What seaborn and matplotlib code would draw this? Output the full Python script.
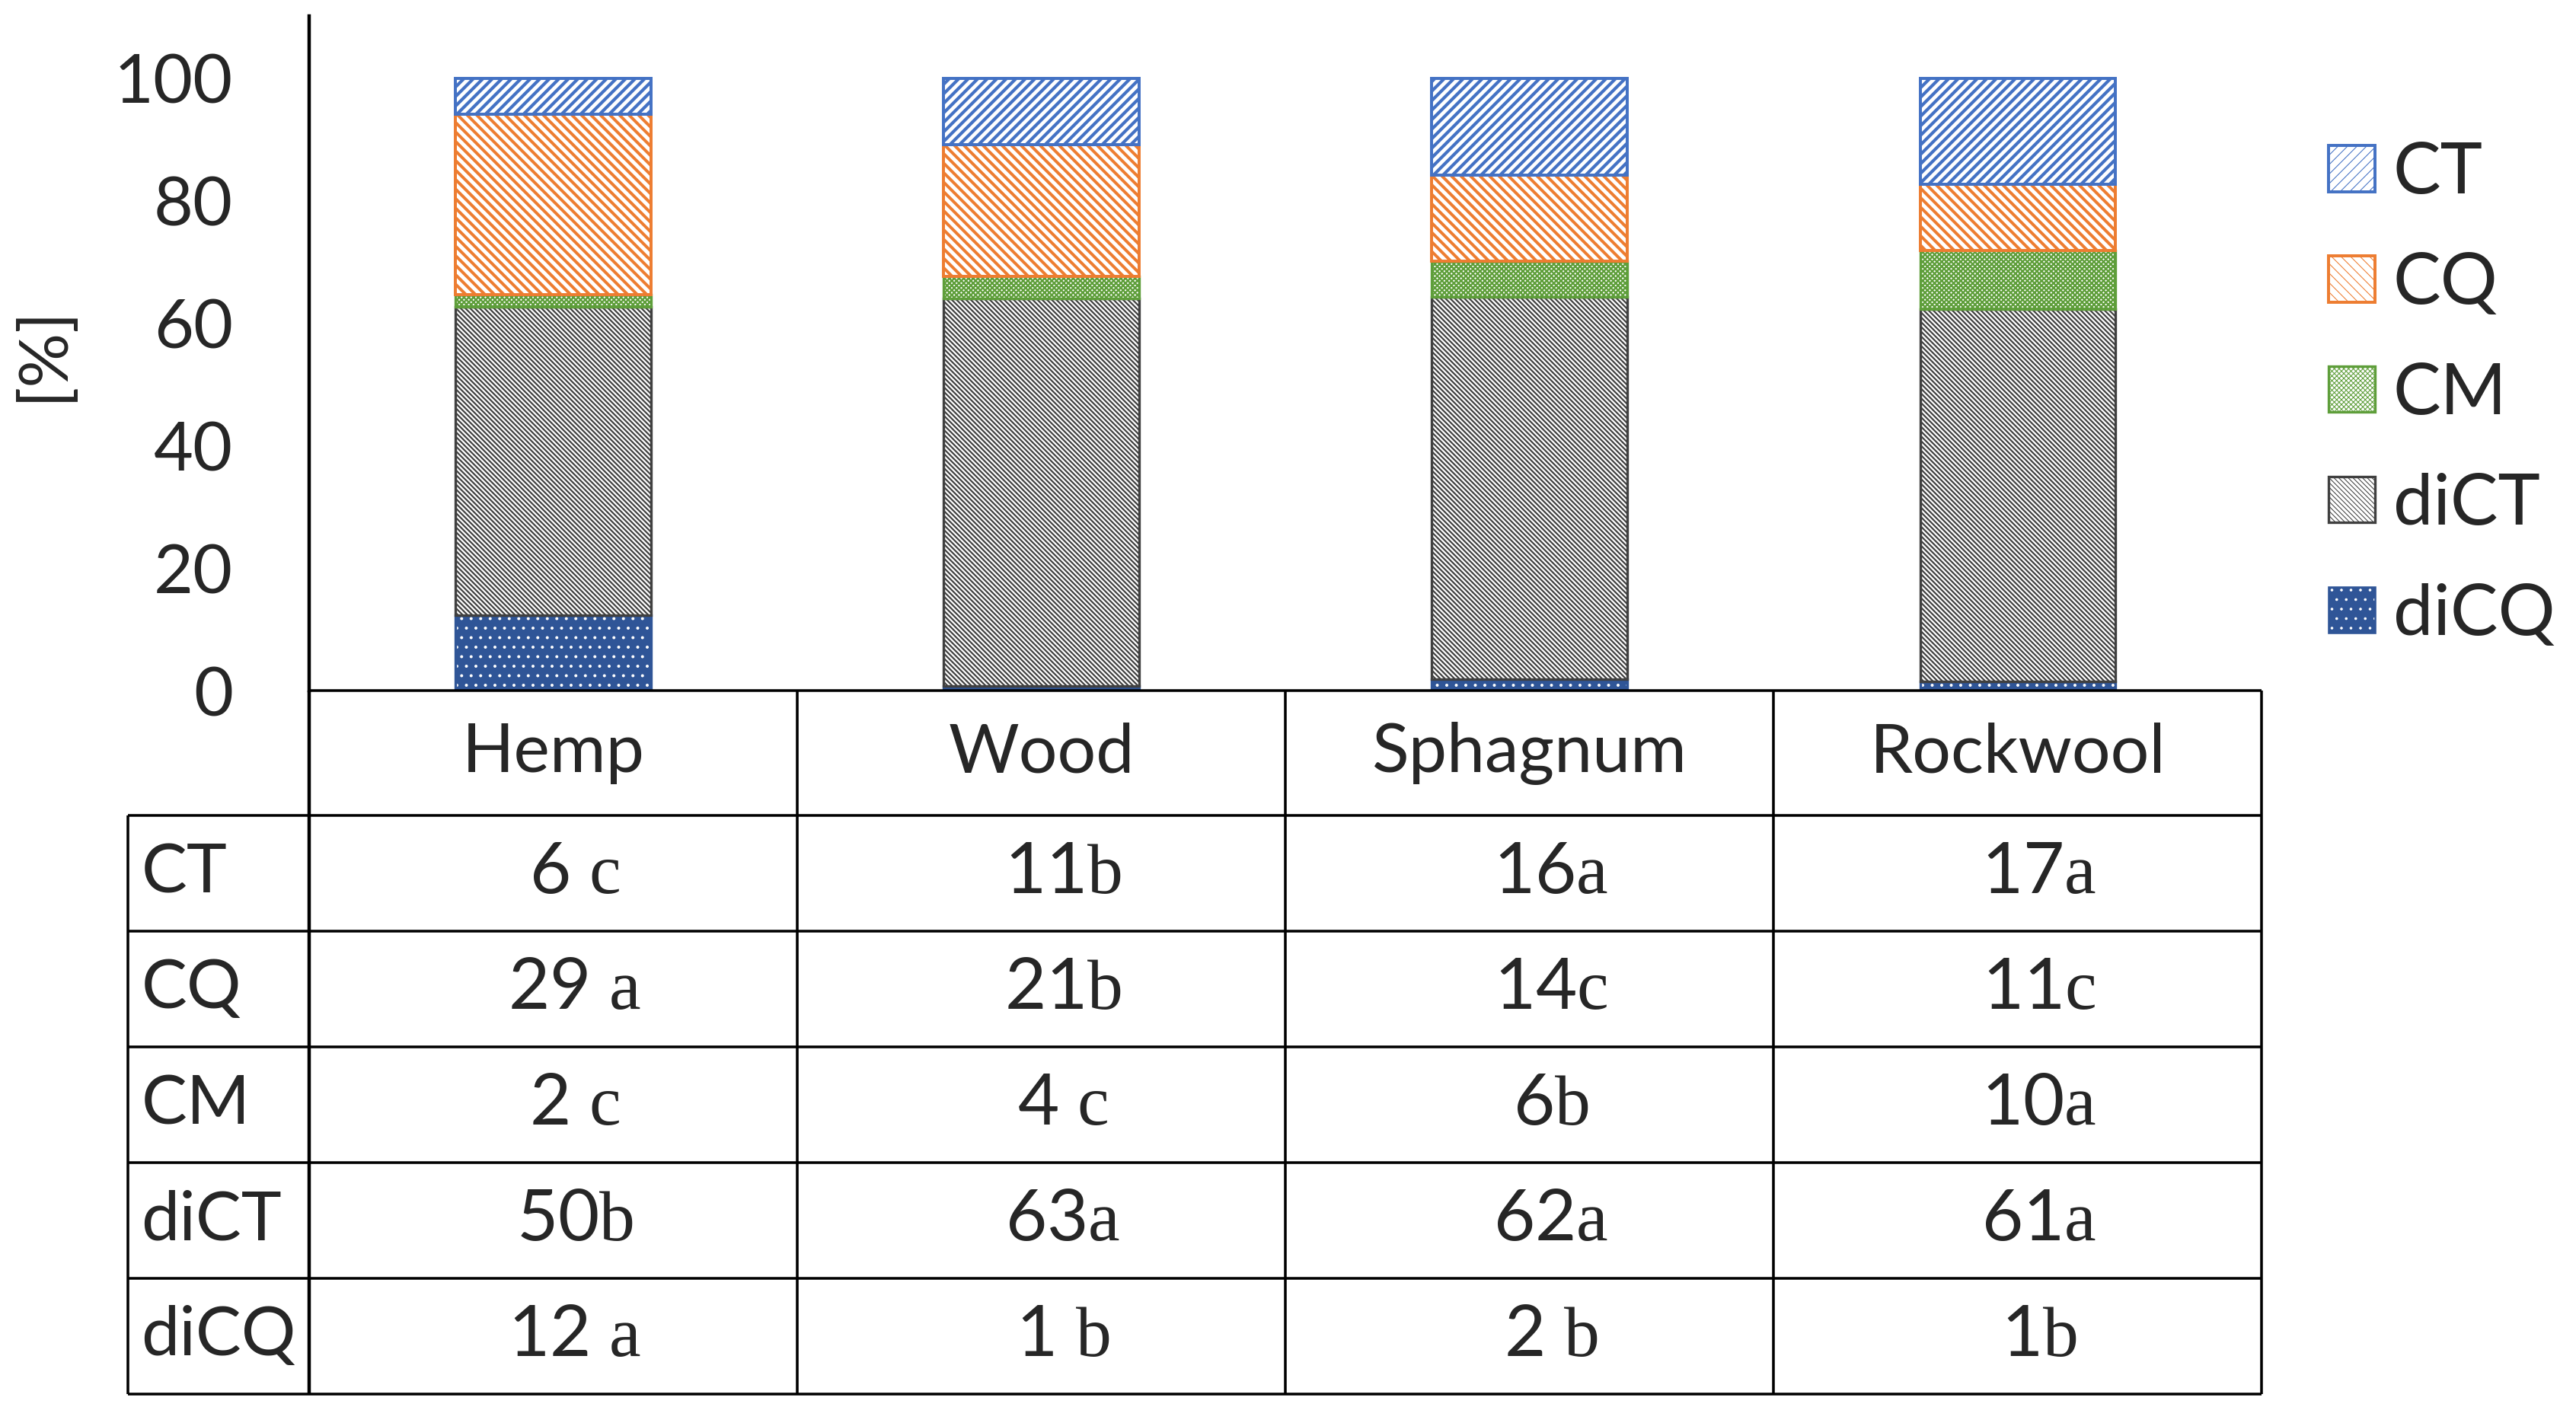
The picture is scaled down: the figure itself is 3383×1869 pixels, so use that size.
import matplotlib
matplotlib.use('Agg')
import matplotlib.pyplot as plt
import matplotlib.patches as mpatches
import seaborn as sns

substrates = ['Hemp', 'Wood', 'Sphagnum', 'Rockwool']
compounds = ['CT', 'CQ', 'CM', 'diCT', 'diCQ']

# bar heights, % of total
ct = [5.8, 10.8, 15.8, 17.3]
cq = [29.5, 21.5, 14.0, 10.8]
cm = [2.0, 3.7, 5.9, 9.6]
dict_ = [50.4, 63.3, 62.4, 60.8]
dicq = [12.3, 0.7, 1.9, 1.5]

# table below the bars (value + letter of significance group)
tab_ct = ['6 c', '11b', '16a', '17a']
tab_cq = ['29 a', '21b', '14c', '11c']
tab_cm = ['2 c', '4 c', '6b', '10a']
tab_dict = ['50b', '63a', '62a', '61a']
tab_dicq = ['12 a', '1 b', '2 b', '1b']

yticks = [0, 20, 40, 60, 80, 100]

DPI = 75
sns.set_style('white')
plt.rcParams['font.family'] = ['Lato', 'DejaVu Sans']
plt.rcParams['mathtext.fontset'] = 'custom'
plt.rcParams['mathtext.rm'] = 'Liberation Serif'

styles = {
    'CT':   dict(face='white', edge='#4472C4', hatch='//', lw=3.8, hlw=4.0),
    'CQ':   dict(face='white', edge='#ED7D31', hatch='\\\\', lw=3.8, hlw=3.8),
    'CM':   dict(face='white', edge='#5E9E3A', hatch='xxxx', lw=3.2, hlw=2.2),
    'diCT': dict(face='white', edge='#404040', hatch='\\\\\\\\', lw=3.2, hlw=2.1),
    'diCQ': dict(face='#2F5597', edge='white', hatch='.', lw=0, hlw=1.4),
}
dicq_edge = '#2F5597'

fig = plt.figure(figsize=(3383 / DPI, 1869 / DPI), dpi=DPI)
ax = fig.add_axes([0.12, 0.5147, 0.758, 0.4741])
tab = fig.add_axes([0.0497, 0.0203, 0.8283, 0.4944])


def style_new(patches, st):
    for p in patches:
        p.set_facecolor(st['face'])
        p.set_edgecolor(st['edge'])
        p.set_hatch(st['hatch'])
        p.set_linewidth(st['lw'])
        p.set_hatch_linewidth(st['hlw'])


stack = [('diCQ', dicq), ('diCT', dict_), ('CM', cm), ('CQ', cq), ('CT', ct)]
bottom = [0] * len(substrates)
for name, vals in stack:
    st = styles[name]
    n0 = len(ax.patches)
    sns.barplot(x=substrates, y=vals, order=substrates, bottom=bottom,
                width=0.4, color=st['edge'] if st['face'] == 'white' else st['face'],
                errorbar=None, saturation=1, ax=ax)
    style_new(ax.patches[n0:], st)
    if name == 'diCQ':
        # outline on top of the dotted fill
        n0 = len(ax.patches)
        sns.barplot(x=substrates, y=vals, order=substrates, bottom=bottom,
                    width=0.4, color=dicq_edge, errorbar=None, saturation=1, ax=ax)
        for p in ax.patches[n0:]:
            p.set_facecolor('none')
            p.set_edgecolor(dicq_edge)
            p.set_linewidth(3.2)
    bottom = [b + v for b, v in zip(bottom, vals)]

ax.set_xlim(-0.5, 3.5)
ax.set_ylim(0, 110.2)
ax.set_xticks([])
ax.set_xlabel('')
ax.set_yticks(yticks)
ax.tick_params(axis='y', length=0, pad=96, labelsize=86)
ax.set_ylabel('[%]', fontsize=86)
ax.yaxis.set_label_coords(-0.120, 0.5)
for s in ['top', 'right', 'bottom']:
    ax.spines[s].set_visible(False)
ax.spines['left'].set_linewidth(4.3)
ax.spines['left'].set_color('black')

# legend
handles = []
for name in compounds:
    st = styles[name]
    h = mpatches.Patch(facecolor=st['face'], edgecolor=st['edge'],
                       hatch=st['hatch'], linewidth=st['lw'])
    h.set_hatch_linewidth(st['hlw'])
    if name == 'diCQ':
        h = (h, mpatches.Patch(facecolor='none', edgecolor=dicq_edge, linewidth=2.5))
    handles.append(h)
leg = ax.legend(handles, compounds, loc='center left', bbox_to_anchor=(0.904, 0.7228),
                bbox_transform=fig.transFigure, frameon=False, fontsize=90,
                handlelength=0.65, handleheight=0.62, handletextpad=0.25,
                labelspacing=0.65, borderpad=0, borderaxespad=0)

# table
head = 1.08
n_rows = len(compounds)
left = -0.871
tab.set_xlim(left, 3.5)
tab.set_ylim(head + n_rows, 0)
tab.axis('off')
edges = [head + i for i in range(n_rows + 1)]
lw_t = 3.4
tab.hlines(0, -0.5, 3.5, color='black', lw=lw_t, clip_on=False)
tab.hlines(edges, left, 3.5, color='black', lw=lw_t, clip_on=False)
tab.vlines(left, head, head + n_rows, color='black', lw=lw_t, clip_on=False)
tab.vlines([-0.5, 0.5, 1.5, 2.5, 3.5], 0, head + n_rows, color='black', lw=lw_t, clip_on=False)
tab.vlines(-0.5, 0, head + n_rows, color='black', lw=4.3, clip_on=False)

for i, s in enumerate(substrates):
    tab.text(i, head / 2, s, ha='center', va='center', fontsize=86)

rows = [tab_ct, tab_cq, tab_cm, tab_dict, tab_dicq]
for r, (name, cells) in enumerate(zip(compounds, rows)):
    yc = head + r + 0.5
    tab.text(left + 0.027, yc, name, ha='left', va='center', fontsize=86)
    for i, c in enumerate(cells):
        label = c[:-1] + r'$\mathrm{' + c[-1] + '}$'
        tab.text(i + 0.044, yc, label, ha='center', va='center', fontsize=90)

fig.savefig('out.png', dpi=DPI)
